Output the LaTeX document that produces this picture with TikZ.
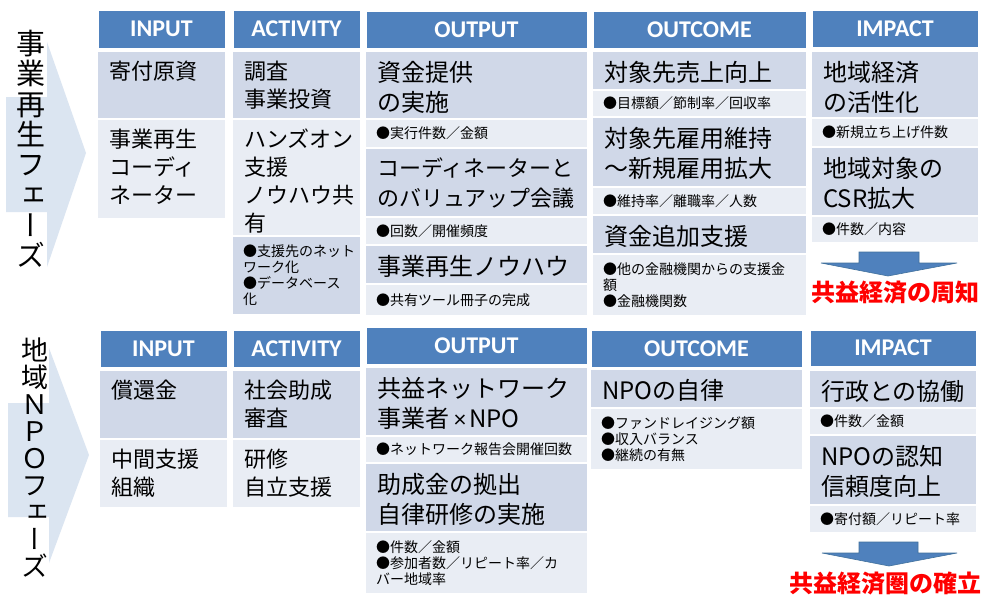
\documentclass[tikz,border=0pt]{standalone}
\usepackage{fontspec}
\setmainfont{Noto Sans CJK JP}
\newfontfamily\hdfont{Carlito}
\newfontfamily\vtfont[RawFeature=+vert]{Noto Sans CJK JP}
\definecolor{hdblue}{HTML}{4F81BD}
\definecolor{celldk}{HTML}{D0D8E8}
\definecolor{celllt}{HTML}{E9EDF4}
\definecolor{phasebg}{HTML}{DBE5F1}
\definecolor{arrowedge}{HTML}{41719C}
\definecolor{redtxt}{HTML}{FF0000}
\tikzset{
  hdbox/.style={fill=hdblue, draw=white, line width=0.6pt, text=white, inner sep=0pt,
    font=\hdfont\bfseries\fontsize{24}{28}\selectfont},
  dk/.style={fill=celldk, draw=none, inner sep=0pt},
  lt/.style={fill=celllt, draw=none, inner sep=0pt},
  txtA/.style={inner sep=0pt, align=left, font=\fontsize{22}{28}\selectfont},
  txtB/.style={inner sep=0pt, align=left, font=\fontsize{24}{30}\selectfont},
  txtC/.style={inner sep=0pt, align=left, font=\fontsize{22}{30}\selectfont},
  smalltxt/.style={inner sep=0pt, align=left, font=\fontsize{14}{16}\selectfont},
  redlab/.style={inner sep=0pt, text=redtxt, font=\bfseries\fontsize{24}{28}\selectfont},
  vlab/.style={inner sep=0pt, align=center},
  dnarrow/.style={fill=hdblue, draw=arrowedge, line width=0.6pt, line join=miter},
}
\newcommand\hdr[6]{\node[hdbox, minimum width={(#4-#2)*1pt}, minimum height={(#5-#3)*1pt}] (#1) at ({(#2+#4)/2},{(#3+#5)/2}) {#6};}
\newcommand\bcell[8]{\node[#2, minimum width={(#5-#3)*1pt}, minimum height={(#6-#4)*1pt}] (#1) at ({(#3+#5)/2},{(#4+#6)/2}) {};
  \node[#7, anchor=north west] (#1t) at ({#3+11},{#4+9}) {#8};}
\newcommand\scell[7]{\node[#2, minimum width={(#5-#3)*1pt}, minimum height={(#6-#4)*1pt}] (#1) at ({(#3+#5)/2},{(#4+#6)/2}) {};
  \node[smalltxt, anchor=west] (#1t) at ({#3+10},{(#4+#6)/2}) {#7};}
\begin{document}
\begin{tikzpicture}[x=1pt,y=-1pt]
\useasboundingbox (0,0) rectangle (987,594);
\fill[white] (0,0) rectangle (987,594);
% phase arrows
\fill[phasebg] (6,97) -- (47,97) -- (47,42) -- (86,153) -- (47,267) -- (47,212) -- (6,212) -- cycle;
\fill[phasebg] (8,403) -- (49,403) -- (49,348) -- (89,455) -- (49,563) -- (49,517) -- (8,517) -- cycle;
\node[vlab, font=\vtfont\fontsize{29}{30.3}\selectfont] (p1) at (31,149) {事\\業\\再\\生\\フ\\ェ\\ー\\ズ};
\node[vlab, font=\vtfont\fontsize{27}{27}\selectfont] (p2) at (35,458) {地\\域\\Ｎ\\Ｐ\\Ｏ\\フ\\ェ\\ー\\ズ};
% top row headers
\hdr{h1in}{98}{10}{225}{48}{INPUT}
\hdr{h1ac}{233}{10}{360}{48}{ACTIVITY}
\hdr{h1op}{366}{11}{587}{48}{OUTPUT}
\hdr{h1oc}{593}{11}{806}{48}{OUTCOME}
\hdr{h1im}{812}{10}{978}{47}{IMPACT}
% top row cells
\bcell{a1}{dk}{98}{52}{225}{118}{txtA}{寄付原資}
\bcell{a2}{lt}{98}{120}{225}{218}{txtA}{事業再生\\コーディ\\ネーター}
\bcell{b1}{dk}{233}{52}{360}{118}{txtA}{調査\\事業投資}
\bcell{b2}{lt}{233}{120}{360}{235}{txtA}{ハンズオン\\支援\\ノウハウ共\\有}
\scell{b3}{dk}{233}{237}{360}{314}{●支援先のネット\\ワーク化\\●データベース\\化}
\bcell{c1}{dk}{366}{52}{587}{118}{txtB}{資金提供\\の実施}
\scell{c2}{lt}{366}{120}{587}{147}{●実行件数／金額}
\bcell{c3}{dk}{366}{149}{587}{216}{txtC}{コーディネーターと\\のバリュアップ会議}
\scell{c4}{lt}{366}{218}{587}{244}{●回数／開催頻度}
\bcell{c5}{dk}{366}{246}{587}{283}{txtB}{事業再生ノウハウ}
\scell{c6}{lt}{366}{285}{587}{315}{●共有ツール冊子の完成}
\bcell{d1}{dk}{593}{52}{806}{89}{txtB}{対象先売上向上}
\scell{d2}{lt}{593}{91}{806}{116}{●目標額／節制率／回収率}
\bcell{d3}{dk}{593}{118}{806}{186}{txtB}{対象先雇用維持\\～新規雇用拡大}
\scell{d4}{lt}{593}{188}{806}{214}{●維持率／離職率／人数}
\bcell{d5}{dk}{593}{216}{806}{253}{txtB}{資金追加支援}
\scell{d6}{lt}{593}{255}{806}{315}{●他の金融機関からの支援金\\額\\●金融機関数}
\bcell{e1}{dk}{812}{52}{978}{117}{txtB}{地域経済\\の活性化}
\scell{e2}{lt}{812}{119}{978}{146}{●新規立ち上げ件数}
\bcell{e3}{dk}{812}{148}{978}{215}{txtB}{地域対象の\\CSR拡大}
\scell{e4}{lt}{812}{217}{978}{242}{●件数／内容}
% bottom row headers
\hdr{h2in}{100}{330}{227}{367}{INPUT}
\hdr{h2ac}{233}{330}{360}{367}{ACTIVITY}
\hdr{h2op}{366}{327}{587}{364}{OUTPUT}
\hdr{h2oc}{591}{330}{802}{367}{OUTCOME}
\hdr{h2im}{810}{330}{976}{366}{IMPACT}
% bottom row cells
\bcell{f1}{dk}{100}{371}{227}{438}{txtA}{償還金}
\bcell{f2}{lt}{100}{440}{227}{507}{txtA}{中間支援\\組織}
\bcell{g1}{dk}{233}{371}{360}{438}{txtA}{社会助成\\審査}
\bcell{g2}{lt}{233}{440}{360}{507}{txtA}{研修\\自立支援}
\bcell{h1}{dk}{366}{368}{587}{435}{txtB}{共益ネットワーク\\事業者\hspace{5pt}{\hdfont ×}\hspace{3pt}NPO}
\scell{h2}{lt}{366}{437}{587}{462}{●ネットワーク報告会開催回数}
\bcell{h3}{dk}{366}{464}{587}{531}{txtB}{助成金の拠出\\自律研修の実施}
\scell{h4}{lt}{366}{533}{587}{593}{●件数／金額\\●参加者数／リピート率／カ\\バー地域率}
\bcell{i1}{dk}{591}{370}{802}{407}{txtB}{NPOの自律}
\scell{i2}{lt}{591}{409}{802}{469}{●ファンドレイジング額\\●収入バランス\\●継続の有無}
\bcell{j1}{dk}{810}{371}{976}{407}{txtB}{行政との協働}
\scell{j2}{lt}{810}{409}{976}{434}{●件数／金額}
\bcell{j3}{dk}{810}{436}{976}{504}{txtB}{NPOの認知\\信頼度向上}
\scell{j4}{lt}{810}{506}{976}{532}{●寄付額／リピート率}
% down arrows and conclusions
\draw[dnarrow] (859,252) -- (919,252) -- (919,263) -- (957,263) -- (888,276) -- (821,263) -- (859,263) -- cycle;
\draw[dnarrow] (859,542) -- (918,542) -- (918,553) -- (957,553) -- (889,566) -- (822,553) -- (859,553) -- cycle;
\node[redlab] (r1) at (895,293) {共益経済の周知};
\node[redlab] (r2) at (885,583) {共益経済圏の確立};
\end{tikzpicture}
\end{document}
